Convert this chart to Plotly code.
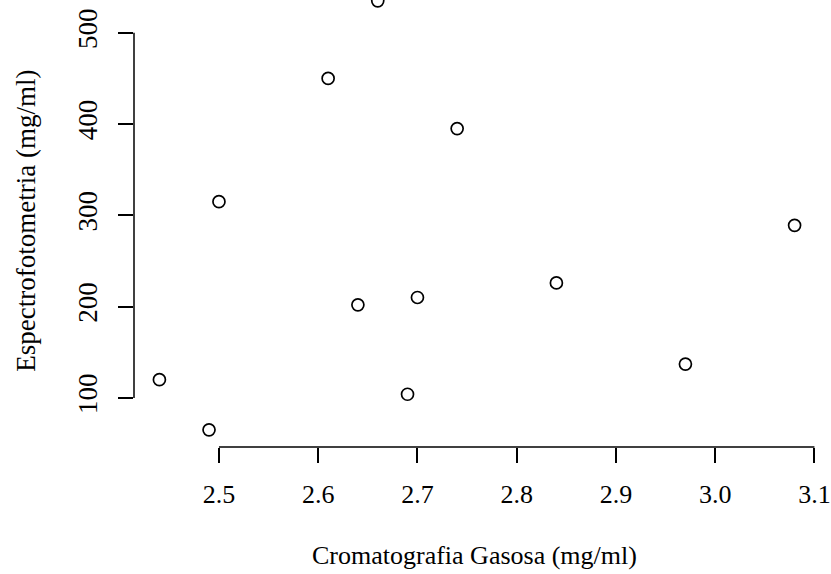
import plotly.graph_objects as go

# Paired measurements: gas chromatography vs spectrophotometry
cromatografia = [2.44, 2.49, 2.50, 2.61, 2.64, 2.66, 2.69, 2.70, 2.74, 2.84, 2.97, 3.08]
espectrofotometria = [120, 65, 315, 450, 202, 535, 104, 210, 395, 226, 137, 289]

x_ticks = [2.5, 2.6, 2.7, 2.8, 2.9, 3.0, 3.1]
x_labels = ["2.5", "2.6", "2.7", "2.8", "2.9", "3.0", "3.1"]
y_ticks = [100, 200, 300, 400, 500]
y_labels = ["100", "200", "300", "400", "500"]

FONT = "Liberation Serif"
W, H = 831, 574

# R-style 4% padding around the data range
xmin, xmax = min(cromatografia), max(cromatografia)
ymin, ymax = min(espectrofotometria), max(espectrofotometria)
xpad = 0.04 * (xmax - xmin)
ypad = 0.04 * (ymax - ymin)
x_range = [xmin - xpad, xmax + xpad]
y_range = [ymin - ypad, 535.9]

fig = go.Figure(
    go.Scatter(
        x=cromatografia,
        y=espectrofotometria,
        mode="markers",
        marker=dict(symbol="circle-open", size=12, color="black",
                    line=dict(width=1.7, color="black")),
        cliponaxis=False,
        hoverinfo="x+y",
    )
)

axis_common = dict(
    showgrid=False, zeroline=False, showline=False,
    ticks="outside", ticklen=15, tickwidth=1.5, tickcolor="black",
)

fig.update_xaxes(range=x_range, tickvals=x_ticks, ticktext=x_labels,
                 ticklabelstandoff=9,
                 tickfont=dict(family=FONT, size=26, color="black"), **axis_common)
fig.update_yaxes(range=y_range, tickvals=y_ticks, ticktext=y_labels,
                 tickangle=-90, ticklabelstandoff=10,
                 tickfont=dict(family=FONT, size=27, color="black"), **axis_common)

# Axis lines spanning only the tick range
fig.add_shape(type="line", xref="x", yref="paper",
              x0=x_ticks[0], x1=x_ticks[-1], y0=0, y1=0,
              line=dict(color="black", width=1.5))
fig.add_shape(type="line", xref="paper", yref="y",
              x0=0, x1=0, y0=y_ticks[0], y1=y_ticks[-1],
              line=dict(color="black", width=1.5))

fig.add_annotation(text="Cromatografia Gasosa (mg/ml)", xref="paper", yref="paper",
                   x=0.497, y=-0.243, xanchor="center", yanchor="middle",
                   showarrow=False, font=dict(family=FONT, size=26, color="black"))
fig.add_annotation(text="Espectrofotometria (mg/ml)", xref="paper", yref="paper",
                   x=-0.157, y=0.507, xanchor="center", yanchor="middle", textangle=-90,
                   showarrow=False, font=dict(family=FONT, size=27, color="black"))

fig.update_layout(
    width=W, height=H,
    margin=dict(l=134, r=11, t=0, b=127),
    plot_bgcolor="white", paper_bgcolor="white",
    showlegend=False,
)

fig.write_html("out.html")
